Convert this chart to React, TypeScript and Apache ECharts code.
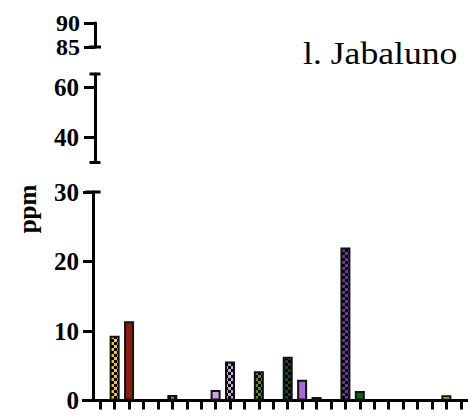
import React, { useEffect, useRef } from "react";
import * as echarts from "echarts";

const categories = [
  "S1", "S2", "S3", "S4", "S5", "S6", "S7", "S8", "S9", "S10", "S11", "S12", "S13",
  "S14", "S15", "S16", "S17", "S18", "S19", "S20", "S21", "S22", "S23", "S24", "S25", "S26",
];
const values = [
  0, 9.3, 11.4, 0, 0, 0.8, 0, 0, 1.5, 5.6, 0, 4.2, 0,
  6.3, 3.0, 0.5, 0, 22.0, 1.35, 0, 0, 0, 0, 0, 0.75, 0,
];
const barColors = [
  "#ffffff", "#f7c21b", "#8e1c0c", "#ffffff", "#ffffff", "#e8900c", "#ffffff", "#ffffff", "#c9a2e2", "#c9a2e2", "#ffffff", "#5e8c1f", "#ffffff",
  "#174a14", "#a56bd6", "#6a2f9a", "#ffffff", "#7434a8", "#08660c", "#ffffff", "#ffffff", "#ffffff", "#ffffff", "#ffffff", "#d2e400", "#ffffff",
];
const checkered = [
  false, true, false, false, false, true, false, false, false, true, false, true, false,
  true, false, false, false, true, false, false, false, false, false, false, false, false,
];
const bottomTicks = [0, 10, 20, 30];
const middleTicks = [40, 60];
const topTicks = [85, 90];

function makeChecker(color: string) {
  const c = document.createElement("canvas");
  c.width = 6;
  c.height = 6;
  const ctx = c.getContext("2d")!;
  ctx.fillStyle = color;
  ctx.fillRect(0, 0, 6, 6);
  ctx.fillStyle = "#000000";
  ctx.fillRect(0, 0, 3, 3);
  ctx.fillRect(3, 3, 3, 3);
  return { image: c, repeat: "repeat", imageWidth: 6, imageHeight: 6 } as any;
}

export default function App() {
  const ref = useRef<HTMLDivElement>(null);
  useEffect(() => {
    if (!ref.current) return;
    const chart = echarts.init(ref.current, undefined, { renderer: "svg" });
    const labelFont = {
      fontFamily: "Liberation Serif",
      fontWeight: "bold" as const,
      fontSize: 25,
      color: "#000",
      hideOverlap: false,
      showMinLabel: true,
      showMaxLabel: true,
    };
    const yLine = (symbol: any, capW: number) => ({
      show: true,
      lineStyle: { color: "#000", width: 3 },
      symbol,
      symbolSize: [capW, 3],
    });
    const data = values.map((v, i) => ({
      value: v,
      itemStyle: {
        color: checkered[i] ? makeChecker(barColors[i]) : barColors[i],
        borderColor: "#111",
        borderWidth: v > 0 ? 2 : 0,
      },
    }));
    chart.setOption({
      animation: false,
      grid: [
        { left: 95, right: -1, top: 23, height: 24 },
        { left: 95, right: -1, top: 74, height: 88.5 },
        { left: 93, right: -1, top: 192, height: 208.5 },
      ],
      xAxis: [
        { type: "category", gridIndex: 0, data: categories, show: false },
        { type: "category", gridIndex: 1, data: categories, show: false },
        {
          type: "category",
          gridIndex: 2,
          data: categories,
          boundaryGap: true,
          axisLine: { show: true, lineStyle: { color: "#000", width: 3 } },
          axisTick: {
            show: true,
            alignWithLabel: true,
            interval: 0,
            length: 9,
            lineStyle: { color: "#000", width: 3 },
          },
          axisLabel: { show: false },
          splitLine: { show: false },
        },
      ],
      yAxis: [
        {
          type: "value",
          gridIndex: 0,
          min: topTicks[0],
          max: topTicks[1],
          interval: 5,
          axisLine: yLine(["rect", "none"], 12),
          axisTick: { show: true, length: 11, lineStyle: { color: "#000", width: 3 } },
          axisLabel: { ...labelFont, fontSize: 24, lineHeight: 22, margin: 15 },
          splitLine: { show: false },
        },
        {
          type: "value",
          gridIndex: 1,
          min: 30,
          max: 65.5,
          axisLine: yLine(["rect", "rect"], 11),
          axisTick: {
            show: true,
            length: 11,
            customValues: middleTicks,
            lineStyle: { color: "#000", width: 3 },
          },
          axisLabel: { ...labelFont, margin: 16, customValues: middleTicks },
          splitLine: { show: false },
        },
        {
          type: "value",
          gridIndex: 2,
          min: bottomTicks[0],
          max: bottomTicks[3],
          interval: 10,
          axisLine: yLine(["none", "rect"], 15),
          axisTick: { show: true, length: 10, lineStyle: { color: "#000", width: 3 } },
          axisLabel: { ...labelFont, margin: 14 },
          splitLine: { show: false },
        },
      ],
      series: [
        {
          type: "bar",
          xAxisIndex: 2,
          yAxisIndex: 2,
          barWidth: 10,
          data,
        },
      ],
      graphic: [
        {
          type: "rect",
          shape: { x: 82, y: 399, width: 12, height: 3 },
          style: { fill: "#000" },
          silent: true,
        },
        {
          type: "text",
          x: 303,
          y: 53,
          scaleX: 1.15,
          style: {
            text: "l. Jabaluno",
            fontFamily: "Liberation Serif",
            fontSize: 31,
            fill: "#000",
            verticalAlign: "middle",
          },
        },
        {
          type: "text",
          x: 27,
          y: 209,
          rotation: Math.PI / 2,
          style: {
            text: "ppm",
            fontFamily: "Liberation Serif",
            fontWeight: "bold",
            fontSize: 25,
            fill: "#000",
            align: "center",
            verticalAlign: "middle",
          },
        },
      ],
    });
    return () => chart.dispose();
  }, []);
  return <div ref={ref} style={{ width: 468, height: 416, position: "absolute", left: 0, top: 0 }} />;
}
